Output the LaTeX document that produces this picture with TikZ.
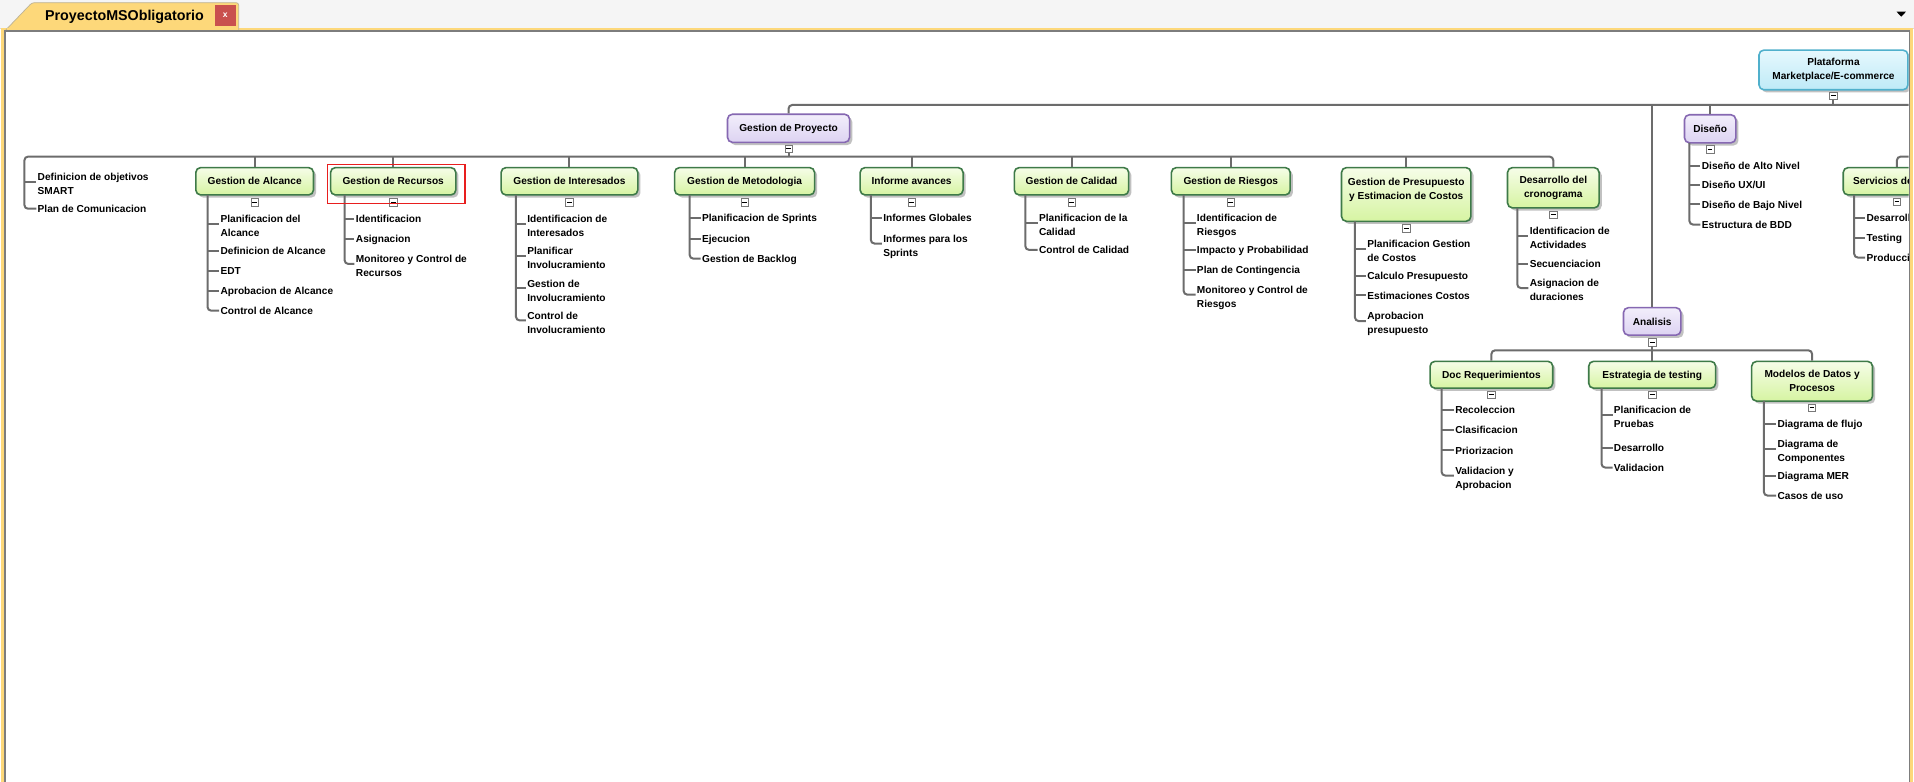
\documentclass[tikz,border=0pt]{standalone}
\usepackage{fontspec}
\setmainfont{Liberation Sans}
\usetikzlibrary{shadows}
\definecolor{linegray}{RGB}{108,108,108}
\definecolor{gborder}{RGB}{62,122,72}
\definecolor{gtop}{RGB}{246,253,232}
\definecolor{gbot}{RGB}{214,244,162}
\definecolor{pborder}{RGB}{134,104,178}
\definecolor{ptop}{RGB}{242,238,251}
\definecolor{pbot}{RGB}{221,211,242}
\definecolor{cborder}{RGB}{80,176,204}
\definecolor{ctop}{RGB}{230,248,253}
\definecolor{cbot}{RGB}{190,234,247}
\definecolor{tabyellow}{RGB}{253,216,122}
\definecolor{tabedge}{RGB}{190,180,150}
\definecolor{bargray}{RGB}{245,245,245}
\definecolor{framegray}{RGB}{125,125,125}
\definecolor{closered}{RGB}{201,80,78}
\definecolor{selred}{RGB}{232,30,30}
\definecolor{toggray}{RGB}{120,120,120}
\newcommand\lffont{\fontsize{8.3}{11.4}\selectfont\bfseries}
% single-line leaf: name, text-x, y, text
\newcommand\leafA[4]{\node[leaf] (#1) at (#2,#3) {#4};}
% two-line leaf: name, text-x, y of first line, line1, line2
\newcommand\leafB[5]{\node[leaf,text depth=8pt] (#1) at (#2,#3+4) {#4};
  \node[leaf] (#1-2) at (#2,#3+11.4) {#5};}
% branch from spine x to leaf
\newcommand\brnch[2]{\draw[conn] (#1,0 |- #2.west) -- ([xshift=-1pt]#2.west);}
% spine: x, top y, last leaf
\newcommand\spinex[3]{\draw[conn,rounded corners=3pt] (#1,#2) -- (#1,0 |- #3.west) -- ([xshift=-1pt]#3.west);}
\begin{document}
\begin{tikzpicture}[x=1pt,y=-1pt,
  conn/.style={draw=linegray,line width=1.64pt},
  leaf/.style={anchor=west,inner sep=0pt,font=\lffont,text height=6pt,text depth=0pt},
  nbox/.style={rounded corners=4pt,line width=1.3pt,align=center,inner sep=0pt,font=\lffont,
     drop shadow={shadow xshift=2.2pt,shadow yshift=-2.2pt,opacity=0.4,fill=black!60}},
  gbox/.style={nbox,draw=gborder,top color=gtop,bottom color=gbot},
  pbox/.style={nbox,draw=pborder,top color=ptop,bottom color=pbot},
  cbox/.style={nbox,draw=cborder,top color=ctop,bottom color=cbot},
  oneline/.style={text height=6pt,text depth=0pt},
  boxtxt/.style={align=center,inner sep=0pt,font=\lffont},
  tog/.style={draw=toggray,fill=white,line width=0.5pt,minimum width=6pt,minimum height=6pt,inner sep=0pt,
     path picture={\draw[black,line width=0.7pt] ([xshift=-1.9pt]path picture bounding box.center) -- ([xshift=1.9pt]path picture bounding box.center);}}
]
\useasboundingbox (0,0) rectangle (1568,640);
\fill[white] (0,0) rectangle (1568,640);
% window chrome
\fill[bargray] (0,0) rectangle (1568,23.2);
\draw[black!15,line width=0.6pt] (0,22.9) -- (1568,22.9);
\fill[tabyellow] (0.8,23.2) rectangle (1567.5,641);
\draw[fill=tabyellow,draw=tabedge,line width=0.6pt,rounded corners=2pt] (4.9,24.4) -- (26.2,2.2) -- (195.5,2.2) -- (195.5,24.4);
\fill[tabyellow] (5.5,23.2) rectangle (195,24.6);
\fill[framegray] (2.9,24.6) rectangle (1565,641);
\fill[white] (4.7,26.4) rectangle (1563.5,641);
\node[anchor=base,inner sep=0pt,font=\bfseries\fontsize{11.7}{14}\selectfont] (title) at (102,16.6) {ProyectoMSObligatorio};
\node[fill=closered,minimum width=17pt,minimum height=17pt,inner sep=0pt,text=white,font=\bfseries\fontsize{7}{8}\selectfont] (close) at (184.5,12.5) {x};
\fill[black] (1553.7,9.6) -- (1561.4,9.6) -- (1557.5,13.7) -- cycle;

\begin{scope}
\clip (4.7,26.4) rectangle (1563.5,640);
% ---------- boxes ----------
\node[cbox,minimum width=122pt,minimum height=32.5pt] (plat) at (1502,57.3) {Plataforma\\Marketplace/E-commerce};
\node[tog] (plat-t) at (1502,78.5) {};
\node[pbox,oneline,minimum width=100pt,minimum height=23pt] (proy) at (646,105.1) {Gestion de Proyecto};
\node[tog] (proy-t) at (646,122) {};
\node[pbox,oneline,minimum width=42pt,minimum height=23pt] (dis) at (1401,105.5) {Diseño};
\node[tog] (dis-t) at (1401,122.3) {};
\node[pbox,oneline,minimum width=47pt,minimum height=22.5pt] (ana) at (1353.5,263.3) {Analisis};
\node[tog] (ana-t) at (1353.5,280.3) {};

\node[gbox,oneline,minimum width=96.4pt,minimum height=22.4pt] (alc) at (208.6,148.5) {Gestion de Alcance};
\node[tog] (alc-t) at (208.6,165.8) {};
\node[gbox,oneline,minimum width=102.6pt,minimum height=22.4pt] (rec) at (322.1,148.5) {Gestion de Recursos};
\node[tog] (rec-t) at (322.1,165.8) {};
\node[gbox,oneline,minimum width=112pt,minimum height=22.4pt] (int) at (466.5,148.5) {Gestion de Interesados};
\node[tog] (int-t) at (466.5,165.8) {};
\node[gbox,oneline,minimum width=114.6pt,minimum height=22.4pt] (met) at (610,148.5) {Gestion de Metodologia};
\node[tog] (met-t) at (610,165.8) {};
\node[gbox,oneline,minimum width=84.3pt,minimum height=22.4pt] (inf) at (746.8,148.5) {Informe avances};
\node[tog] (inf-t) at (746.8,165.8) {};
\node[gbox,oneline,minimum width=93.7pt,minimum height=22.4pt] (cal) at (877.8,148.5) {Gestion de Calidad};
\node[tog] (cal-t) at (877.8,165.8) {};
\node[gbox,oneline,minimum width=97.3pt,minimum height=22.4pt] (rie) at (1008.3,148.5) {Gestion de Riesgos};
\node[tog] (rie-t) at (1008.3,165.8) {};
\node[gbox,minimum width=106pt,minimum height=44pt] (pre) at (1152,159.3) {};
\node[boxtxt] (pre-x) at (1152,155.2) {Gestion de Presupuesto\\y Estimacion de Costos};
\node[tog] (pre-t) at (1152,187) {};
\node[gbox,minimum width=75pt,minimum height=33pt] (cro) at (1272.5,153.8) {Desarrollo del\\cronograma};
\node[tog] (cro-t) at (1272.5,176) {};
\node[gbox,oneline,minimum width=88pt,minimum height=22.4pt] (ser) at (1554,148.5) {Servicios de Nube};
\node[tog] (ser-t) at (1554,165.3) {};

\node[gbox,oneline,minimum width=100.5pt,minimum height=22pt] (docr) at (1221.8,307) {Doc Requerimientos};
\node[tog] (docr-t) at (1221.8,323.5) {};
\node[gbox,oneline,minimum width=104pt,minimum height=22pt] (est) at (1353.5,307) {Estrategia de testing};
\node[tog] (est-t) at (1353.5,323.5) {};
\node[gbox,minimum width=99pt,minimum height=32.5pt] (mod) at (1484.5,312.3) {Modelos de Datos y\\Procesos};
\node[tog] (mod-t) at (1484.5,334) {};

% ---------- leaves ----------
\leafB{smart}{30.7}{144.7}{Definicion de objetivos}{SMART}
\leafA{plan}{30.7}{171}{Plan de Comunicacion}

\leafB{a1}{180.5}{179.4}{Planificacion del}{Alcance}
\leafA{a2}{180.5}{205.6}{Definicion de Alcance}
\leafA{a3}{180.5}{221.7}{EDT}
\leafA{a4}{180.5}{238}{Aprobacion de Alcance}
\leafA{a5}{180.5}{254.5}{Control de Alcance}

\leafA{r1}{291.4}{179.4}{Identificacion}
\leafA{r2}{291.4}{195.8}{Asignacion}
\leafB{r3}{291.4}{212.2}{Monitoreo y Control de}{Recursos}

\leafB{i1}{431.8}{179.4}{Identificacion de}{Interesados}
\leafB{i2}{431.8}{205.6}{Planificar}{Involucramiento}
\leafB{i3}{431.8}{232.3}{Gestion de}{Involucramiento}
\leafB{i4}{431.8}{258.5}{Control de}{Involucramiento}

\leafA{m1}{575}{178.8}{Planificacion de Sprints}
\leafA{m2}{575}{195.5}{Ejecucion}
\leafA{m3}{575}{211.9}{Gestion de Backlog}

\leafA{n1}{723.4}{178.8}{Informes Globales}
\leafB{n2}{723.4}{195.5}{Informes para los}{Sprints}

\leafB{c1}{851}{178.8}{Planificacion de la}{Calidad}
\leafA{c2}{851}{204.7}{Control de Calidad}

\leafB{g1}{980.4}{178.8}{Identificacion de}{Riesgos}
\leafA{g2}{980.4}{204.7}{Impacto y Probabilidad}
\leafA{g3}{980.4}{221}{Plan de Contingencia}
\leafB{g4}{980.4}{237.4}{Monitoreo y Control de}{Riesgos}

\leafB{p1}{1120}{200}{Planificacion Gestion}{de Costos}
\leafA{p2}{1120}{226}{Calculo Presupuesto}
\leafA{p3}{1120}{242}{Estimaciones Costos}
\leafB{p4}{1120}{259}{Aprobacion}{presupuesto}

\leafB{k1}{1253}{189}{Identificacion de}{Actividades}
\leafA{k2}{1253}{216}{Secuenciacion}
\leafB{k3}{1253}{232}{Asignacion de}{duraciones}

\leafA{d1}{1394}{136}{Diseño de Alto Nivel}
\leafA{d2}{1394}{151.5}{Diseño UX/UI}
\leafA{d3}{1394}{167.5}{Diseño de Bajo Nivel}
\leafA{d4}{1394}{184}{Estructura de BDD}

\leafA{s1}{1529}{178.3}{Desarrollo}
\leafA{s2}{1529}{194.7}{Testing}
\leafA{s3}{1529}{211}{Produccion}

\leafA{q1}{1192}{336}{Recoleccion}
\leafA{q2}{1192}{352.5}{Clasificacion}
\leafA{q3}{1192}{369}{Priorizacion}
\leafB{q4}{1192}{385.6}{Validacion y}{Aprobacion}

\leafB{e1}{1322}{336}{Planificacion de}{Pruebas}
\leafA{e2}{1322}{366.7}{Desarrollo}
\leafA{e3}{1322}{383}{Validacion}

\leafA{o1}{1456}{347}{Diagrama de flujo}
\leafB{o2}{1456}{363.7}{Diagrama de}{Componentes}
\leafA{o3}{1456}{389.7}{Diagrama MER}
\leafA{o4}{1456}{406}{Casos de uso}

% ---------- connectors ----------
\draw[conn,rounded corners=3pt] (proy.north) -- (646,86) -- (1570,86);
\draw[conn] (plat-t.south) -- (1502,86);
\draw[conn] (dis.north) -- (1401,86);
\draw[conn] (ana.north) -- (1353.5,86);
\draw[conn] (proy-t.south) -- (646,128.3);
\draw[conn,rounded corners=3pt] ([xshift=-1pt]plan.west) -- (20,0 |- plan.west) -- (20,128.3) -- (1272.5,128.3) -- (cro.north);
\brnch{20}{smart}
\foreach \b in {alc,rec,int,met,inf,cal,rie,pre}{\draw[conn] (\b.north) -- ++(0,-9);}
\draw[conn,rounded corners=3pt] (ser.north) -- (1554,128.3) -- (1570,128.3);
\draw[conn,rounded corners=3pt] (docr.north) -- (1221.8,287) -- (1484.5,287) -- (mod.north);
\draw[conn] (ana-t.south) -- (est.north);

\foreach \l in {a1,a2,a3,a4}{\brnch{170}{\l}}
\spinex{170}{159.7}{a5}
\foreach \l in {r1,r2}{\brnch{282.3}{\l}}
\spinex{282.3}{159.7}{r3}
\foreach \l in {i1,i2,i3}{\brnch{422.7}{\l}}
\spinex{422.7}{159.7}{i4}
\foreach \l in {m1,m2}{\brnch{565}{\l}}
\spinex{565}{159.7}{m3}
\brnch{713.4}{n1}
\spinex{713.4}{159.7}{n2}
\brnch{840}{c1}
\spinex{840}{159.7}{c2}
\foreach \l in {g1,g2,g3}{\brnch{969.7}{\l}}
\spinex{969.7}{159.7}{g4}
\foreach \l in {p1,p2,p3}{\brnch{1110}{\l}}
\spinex{1110}{181.3}{p4}
\foreach \l in {k1,k2}{\brnch{1243}{\l}}
\spinex{1243}{170.3}{k3}
\foreach \l in {d1,d2,d3}{\brnch{1384}{\l}}
\spinex{1384}{117}{d4}
\foreach \l in {s1,s2}{\brnch{1519}{\l}}
\spinex{1519}{159.7}{s3}
\foreach \l in {q1,q2,q3}{\brnch{1181}{\l}}
\spinex{1181}{318}{q4}
\foreach \l in {e1,e2}{\brnch{1312}{\l}}
\spinex{1312}{318}{e3}
\foreach \l in {o1,o2,o3}{\brnch{1445}{\l}}
\spinex{1445}{328.5}{o4}
\end{scope}
% selection
\draw[selred,line width=1pt] (268,134.6) rectangle (381,166.6);
\end{tikzpicture}
\end{document}
